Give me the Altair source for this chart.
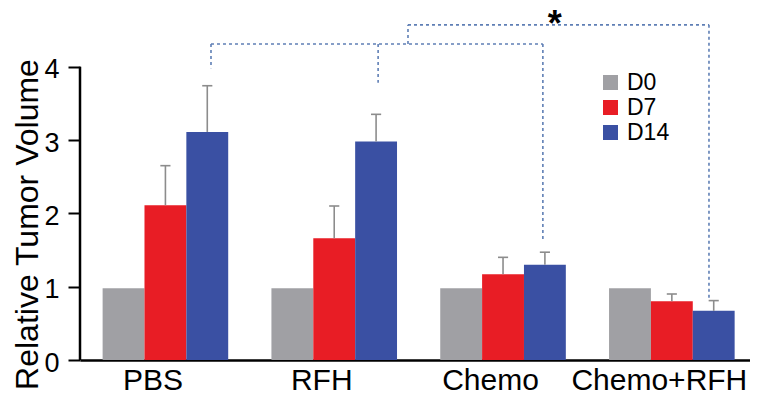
import altair as alt
import pandas as pd

# ---- data ----
groups = ["PBS", "RFH", "Chemo", "Chemo+RFH"]
series = ["D0", "D7", "D14"]
values_d0 = [0.98, 0.98, 0.98, 0.98]
values_d7 = [2.11, 1.66, 1.17, 0.80]
values_d14 = [3.11, 2.98, 1.30, 0.67]
err_d0 = [0.0, 0.0, 0.0, 0.0]
err_d7 = [0.54, 0.44, 0.23, 0.10]
err_d14 = [0.63, 0.37, 0.17, 0.14]
colors = ["#a0a0a4", "#e81d25", "#3a50a3"]
y_ticks = [0, 1, 2, 3, 4]

# significance bracket segments (x in group units, y in data units)
seg_x1 = [0.27, 0.27, 1.26, 2.236, 1.437, 1.437, 3.22]
seg_x2 = [2.236, 0.27, 1.26, 2.236, 3.22, 1.437, 3.22]
seg_y1 = [4.31, 4.31, 4.31, 4.31, 4.57, 4.31, 4.57]
seg_y2 = [4.31, 3.98, 3.78, 1.61, 4.57, 4.57, 0.82]
star_x = [2.307]
star_y = [4.8]
star_text = ["*"]

vals = [values_d0, values_d7, values_d14]
errs = [err_d0, err_d7, err_d14]
rows = []
for j, s in enumerate(series):
    for i, g in enumerate(groups):
        rows.append({"group": g, "gi": i, "series": s, "si": j,
                     "value": vals[j][i], "err": errs[j][i]})
df = pd.DataFrame(rows)
seg_df = pd.DataFrame({"x1": seg_x1, "x2": seg_x2, "y1": seg_y1, "y2": seg_y2})
star_df = pd.DataFrame({"x": star_x, "y": star_y, "t": star_text})
axis_df = pd.DataFrame({"y0": [y_ticks[0]], "y1": [y_ticks[-1]]})

FONT = "Liberation Sans"
bw = 0.248
xscale = alt.Scale(domain=[-0.506, 3.463], nice=False, zero=False)
yscale = alt.Scale(domain=[0, 4.8], nice=False)

label_expr = "[" + ",".join("'" + g + "'" for g in groups) + "][datum.value]"

base = (alt.Chart(df)
        .transform_calculate(xc=f"datum.gi + (datum.si - 1) * {bw}")
        .transform_calculate(xl=f"datum.xc - {bw / 2}", xr=f"datum.xc + {bw / 2}")
        .transform_calculate(top="datum.value + datum.err",
                             cl="datum.xc - 0.03", cr="datum.xc + 0.03"))

bars = base.mark_bar().encode(
    x=alt.X("xl:Q", scale=xscale,
            axis=alt.Axis(values=[0, 1, 2, 3], labelExpr=label_expr, title=None,
                          grid=False, ticks=False, tickSize=0, domain=True,
                          domainColor="black", domainWidth=2.5,
                          labelFont=FONT, labelFontSize=30, labelColor="black",
                          labelLimit=400, labelPadding=5, labelOffset=-13,
                          labelBaseline="top")),
    x2="xr:Q",
    y=alt.Y("value:Q", scale=yscale,
            axis=alt.Axis(values=y_ticks, format="d", grid=False, domain=False,
                          ticks=True, tickSize=12, tickWidth=2, tickColor="black",
                          labelFont=FONT, labelFontSize=27, labelColor="black",
                          labelPadding=9, labelOffset=3,
                          title="Relative Tumor Volume", titleFont=FONT,
                          titleFontSize=32, titleFontWeight="normal",
                          titleColor="black", titleAngle=270, titleX=-43,
                          titleY=216, titleAlign="center",
                          titleBaseline="alphabetic")),
    y2=alt.datum(0),
    color=alt.Color("series:N", scale=alt.Scale(domain=series, range=colors),
                    legend=alt.Legend(title=None, orient="none", legendX=519,
                                      legendY=63, symbolType="square",
                                      symbolSize=225, symbolStrokeWidth=0,
                                      labelFont=FONT, labelFontSize=23,
                                      labelColor="black", labelOffset=5,
                                      rowPadding=1, padding=0)),
)

err_filtered = base.transform_filter("datum.err > 0")
err_lines = err_filtered.mark_rule(color="#8c8c8c", strokeWidth=1.6).encode(
    x=alt.X("xc:Q", scale=xscale), y=alt.Y("value:Q", scale=yscale), y2="top:Q")
err_caps = err_filtered.mark_rule(color="#8c8c8c", strokeWidth=1.6).encode(
    x=alt.X("cl:Q", scale=xscale), x2="cr:Q", y=alt.Y("top:Q", scale=yscale))

brackets = alt.Chart(seg_df).mark_rule(color="#5f7fb5", strokeWidth=1.6,
                                       strokeDash=[3, 3]).encode(
    x=alt.X("x1:Q", scale=xscale), x2="x2:Q",
    y=alt.Y("y1:Q", scale=yscale), y2="y2:Q")

star = alt.Chart(star_df).mark_text(font=FONT, fontSize=36, fontWeight="bold",
                                    baseline="top", align="center",
                                    color="black").encode(
    x=alt.X("x:Q", scale=xscale), y=alt.Y("y:Q", scale=yscale), text="t:N")

yaxis_line = alt.Chart(axis_df).mark_rule(color="black", strokeWidth=2.5).encode(
    x=alt.value(0), y=alt.Y("y0:Q", scale=yscale), y2="y1:Q")

chart = (alt.layer(bars, err_lines, err_caps, brackets, star, yaxis_line)
         .properties(width=670, height=352,
                     padding={"left": 72, "top": 0, "right": 0, "bottom": 35},
                     autosize=alt.AutoSizeParams(type="none"),
                     background="white")
         .configure_view(stroke=None))

chart.save("out.html", embed_options={"renderer": "svg", "actions": False})
